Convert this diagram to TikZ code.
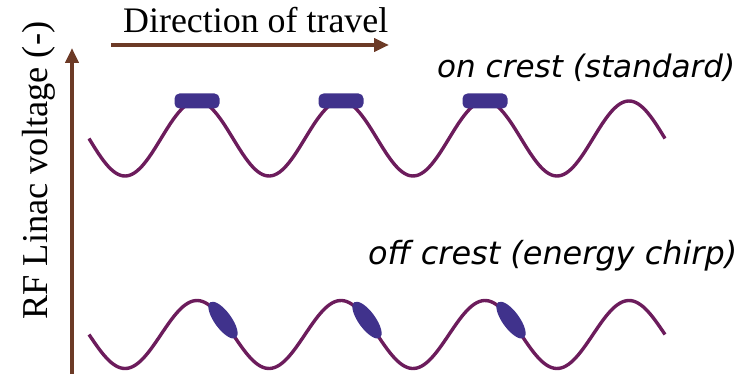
\documentclass[tikz,border=0pt]{standalone}
\usepackage{fontspec}
\setmainfont{Liberation Serif}
\newfontfamily\labelsans{DejaVu Sans}
\usetikzlibrary{arrows.meta,shapes.geometric}
\definecolor{wave}{RGB}{108,28,92}
\definecolor{bunch}{RGB}{64,50,140}
\definecolor{axisbrown}{RGB}{108,58,38}
\begin{document}
\begin{tikzpicture}[x=1pt,y=-1pt,
  wavecurve/.style={draw=wave,line width=3.4pt},
  flatbunch/.style={rectangle,fill=bunch,rounded corners=5pt,minimum width=45pt,minimum height=15pt,inner sep=0pt},
  tiltbunch/.style={ellipse,fill=bunch,minimum width=44pt,minimum height=17pt,inner sep=0pt,rotate=-54},
  axisarrow/.style={draw=axisbrown,line width=4pt,-{Triangle[length=15pt,width=13pt]}},
  seriflabel/.style={inner sep=0pt,text=black},
  caselabel/.style={inner sep=0pt,text=black,font=\labelsans\itshape}
]
\useasboundingbox (0,0) rectangle (749,374);
% axes
\coordinate (vbot) at (72,374);
\coordinate (vtop) at (72,48);
\coordinate (hstart) at (111,45);
\coordinate (hend) at (389,45);
\draw[axisarrow] (vbot) -- (vtop);
\draw[axisarrow] (hstart) -- (hend);
% labels
\node[seriflabel,anchor=base west] (dir) at (123,33) {\resizebox{265pt}{!}{Direction of travel}};
\node[seriflabel,anchor=base west,rotate=90] (ylab) at (47,320) {\resizebox{298pt}{!}{RF Linac voltage (-)}};
\node[caselabel,anchor=base west] (oncrest) at (437,78) {\resizebox{298pt}{!}{on crest (standard)}};
\node[caselabel,anchor=base west] (offcrest) at (368,264) {\resizebox{369pt}{!}{off crest (energy chirp)}};
% waves
\draw[wavecurve] plot[domain=89:665,samples=240,smooth] (\x,{138.5+37.5*sin((\x-89)*2.5)});
\draw[wavecurve] plot[domain=89:665,samples=240,smooth] (\x,{334.5+34*sin((\x-89)*2.5)});
% bunches on crest
\node[flatbunch] (b1) at (197,101) {};
\node[flatbunch] (b2) at (341,101) {};
\node[flatbunch] (b3) at (485,101) {};
% bunches off crest
\node[tiltbunch] (c1) at (223,320.1) {};
\node[tiltbunch] (c2) at (367,320.1) {};
\node[tiltbunch] (c3) at (511,320.1) {};
\end{tikzpicture}
\end{document}
